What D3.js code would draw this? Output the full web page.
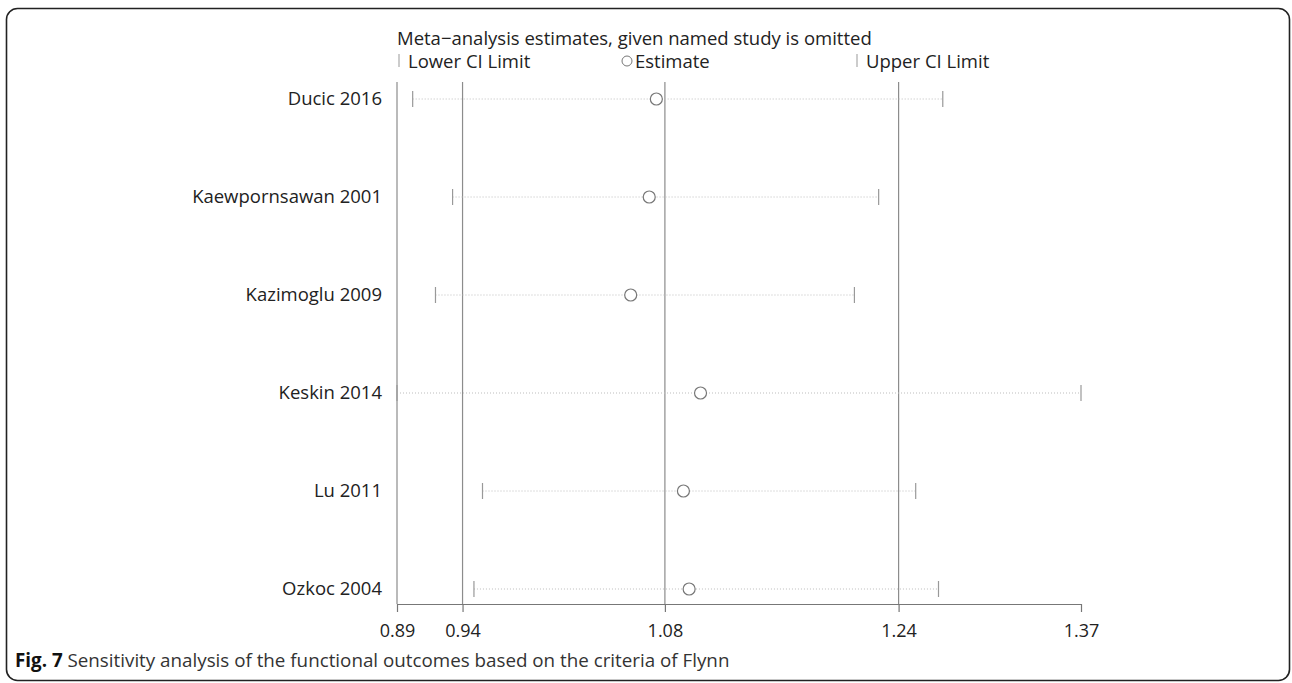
<!DOCTYPE html>
<html><head><meta charset="utf-8">
<script src="https://cdn.jsdelivr.net/npm/d3@7"></script>
<style>body{margin:0;background:#fff} svg{display:block}</style>
</head><body><svg id="chart" width="1292" height="683"></svg>
<script>
const studies = ["Ducic 2016","Kaewpornsawan 2001","Kazimoglu 2009","Keskin 2014","Lu 2011","Ozkoc 2004"];
const lowerCI = [0.901, 0.929, 0.917, 0.890, 0.950, 0.944];
const estimates = [1.072, 1.067, 1.054, 1.103, 1.091, 1.095];
const upperCI = [1.273, 1.228, 1.211, 1.370, 1.254, 1.270];
const refLines = [0.936, 1.078, 1.242];
const tickValues = [0.89, 0.936, 1.078, 1.242, 1.37];
const tickLabels = ["0.89","0.94","1.08","1.24","1.37"];
const titleText = "Meta\u2212analysis estimates, given named study is omitted";
const legendLabels = ["Lower CI Limit","Estimate","Upper CI Limit"];
const captionBold = "Fig. 7";
const captionText = " Sensitivity analysis of the functional outcomes based on the criteria of Flynn";

(function(){
const font = "'Open Sans', sans-serif";
const fs = 18.5;
const svg = d3.select("#chart");

svg.append("rect").attr("x",6.5).attr("y",8.5).attr("width",1283).attr("height",672)
  .attr("rx",11).attr("fill","none").attr("stroke","#222").attr("stroke-width",1.6);

const x = d3.scaleLinear().domain([0.89,1.37]).range([397,1081]);
const y = d3.scalePoint().domain(studies).range([99,589]);
const yTop = 82, yBot = 604;

svg.append("line").attr("x1",x(0.89)).attr("x2",x(0.89)).attr("y1",yTop).attr("y2",yBot)
  .attr("stroke","#8c8c8c").attr("stroke-width",1.2);
svg.selectAll(".ref").data(refLines).join("line")
  .attr("x1",d=>x(d)).attr("x2",d=>x(d)).attr("y1",yTop).attr("y2",yBot)
  .attr("stroke","#8c8c8c").attr("stroke-width",1.2);

const axis = d3.axisBottom(x).tickValues(tickValues)
  .tickFormat((d,i)=>tickLabels[i]).tickSize(8).tickSizeOuter(0);
const ag = svg.append("g").attr("transform",`translate(0,${yBot})`).call(axis);
ag.select(".domain").attr("stroke","#777").attr("stroke-width",1.2);
ag.selectAll(".tick line").attr("stroke","#777").attr("stroke-width",1.2);
ag.selectAll(".tick text").attr("font-family",font).attr("font-size",18).attr("fill","#222").attr("dy","1.2em");

const rows = studies.map((s,i)=>({s, lo:lowerCI[i], est:estimates[i], hi:upperCI[i]}));
const g = svg.append("g");
g.selectAll(".ci").data(rows).join("line")
  .attr("x1",d=>x(d.lo)).attr("x2",d=>x(d.hi)).attr("y1",d=>y(d.s)).attr("y2",d=>y(d.s))
  .attr("stroke","#bdbdbd").attr("stroke-width",1).attr("stroke-dasharray","1,2");
g.selectAll(".capL").data(rows).join("line")
  .attr("x1",d=>x(d.lo)).attr("x2",d=>x(d.lo)).attr("y1",d=>y(d.s)-8).attr("y2",d=>y(d.s)+8)
  .attr("stroke","#999").attr("stroke-width",1.2);
g.selectAll(".capU").data(rows).join("line")
  .attr("x1",d=>x(d.hi)).attr("x2",d=>x(d.hi)).attr("y1",d=>y(d.s)-8).attr("y2",d=>y(d.s)+8)
  .attr("stroke","#999").attr("stroke-width",1.2);
g.selectAll(".est").data(rows).join("circle")
  .attr("cx",d=>x(d.est)).attr("cy",d=>y(d.s)).attr("r",6)
  .attr("fill","#fff").attr("stroke","#777").attr("stroke-width",1.2);
g.selectAll(".lab").data(rows).join("text")
  .attr("x",382).attr("y",d=>y(d.s)+6).attr("text-anchor","end")
  .attr("font-family",font).attr("font-size",fs).attr("fill","#222").text(d=>d.s);

svg.append("text").attr("x",397).attr("y",45).attr("font-family",font).attr("font-size",fs)
  .attr("fill","#222").text(titleText);
const ly = 68;
svg.append("line").attr("x1",399).attr("x2",399).attr("y1",ly-14).attr("y2",ly-1).attr("stroke","#999");
svg.append("text").attr("x",408).attr("y",ly).attr("font-family",font).attr("font-size",fs).attr("fill","#222").text(legendLabels[0]);
svg.append("circle").attr("cx",627).attr("cy",ly-7).attr("r",5).attr("fill","none").attr("stroke","#777");
svg.append("text").attr("x",635).attr("y",ly).attr("font-family",font).attr("font-size",fs).attr("fill","#222").text(legendLabels[1]);
svg.append("line").attr("x1",857).attr("x2",857).attr("y1",ly-14).attr("y2",ly-1).attr("stroke","#999");
svg.append("text").attr("x",866).attr("y",ly).attr("font-family",font).attr("font-size",fs).attr("fill","#222").text(legendLabels[2]);

const cap = svg.append("text").attr("x",15).attr("y",667).attr("font-family",font).attr("font-size",18.8).attr("fill","#333");
cap.append("tspan").attr("font-weight","bold").attr("fill","#111").text(captionBold);
cap.append("tspan").text(captionText);
})();
</script>
</body></html>
